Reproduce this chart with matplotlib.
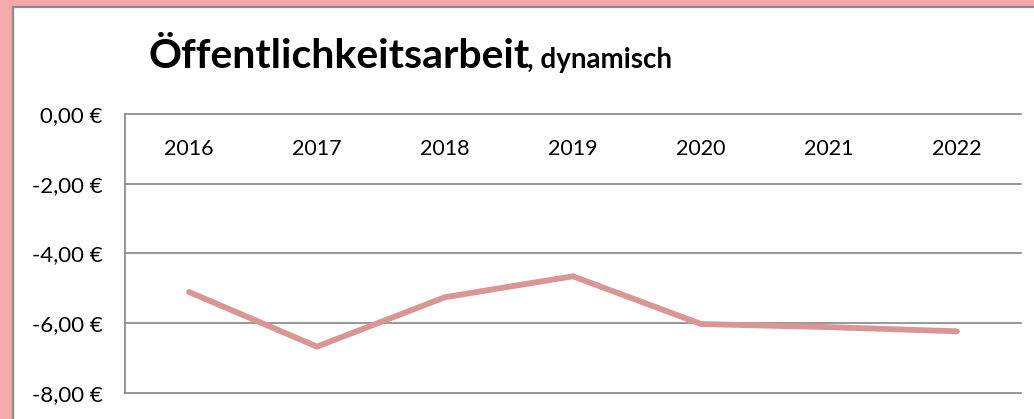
import matplotlib.pyplot as plt
from matplotlib.patches import Rectangle

years = ["2016", "2017", "2018", "2019", "2020", "2021", "2022"]
values = [-5.11, -6.68, -5.26, -4.66, -6.03, -6.12, -6.24]
y_ticks = [0, -2, -4, -6, -8]

plt.rcParams['font.family'] = ['Lato', 'DejaVu Sans']

W, H = 1034, 419
fig = plt.figure(figsize=(W / 100, H / 100), dpi=100)
fig.patch.set_facecolor('#F4AAAA')

# inner white panel with grey edge (cut off at right/bottom like the screenshot)
panel = Rectangle((13 / W, -10 / H), 1.1, (H - 7 + 10) / H, transform=fig.transFigure,
                  facecolor='white', edgecolor='#8C8C8C', linewidth=1.6, zorder=-5)
fig.patches.append(panel)

ax = fig.add_axes([125 / W, 26.4 / H, 896 / W, 278.6 / H])
ax.set_facecolor('none')
ax.set_zorder(2)

x = list(range(len(years)))
ax.plot(x, values, color='#D99694', linewidth=4.2, solid_capstyle='round',
        solid_joinstyle='miter', zorder=3)

ax.set_xlim(-0.5, len(years) - 0.5)
ax.set_ylim(-8, 0)
ax.set_yticks(y_ticks)
ax.set_yticklabels([f"{v:.2f} €".replace('.', ',') for v in y_ticks], fontsize=16)
ax.tick_params(axis='y', length=0, pad=16)
ax.set_xticks([])

for yv in y_ticks:
    ax.axhline(yv, color='#868686', linewidth=1.2, zorder=1, clip_on=False)

for s in ['top', 'right', 'bottom']:
    ax.spines[s].set_visible(False)
ax.spines['left'].set_color('#868686')
ax.spines['left'].set_linewidth(1.2)

# category labels sit just under the zero line
for i, yr in enumerate(years):
    ax.text(i, -1.0, yr, ha='center', va='center', fontsize=15.5)

fig.text(148 / W, 1 - 68 / H, "Öffentlichkeitsarbeit", fontsize=29.5,
         fontweight='bold', va='baseline', ha='left')
fig.text(527 / W, 1 - 68 / H, ", dynamisch", fontsize=20,
         fontweight='bold', va='baseline', ha='left')

fig.savefig('out.png', dpi=100)
